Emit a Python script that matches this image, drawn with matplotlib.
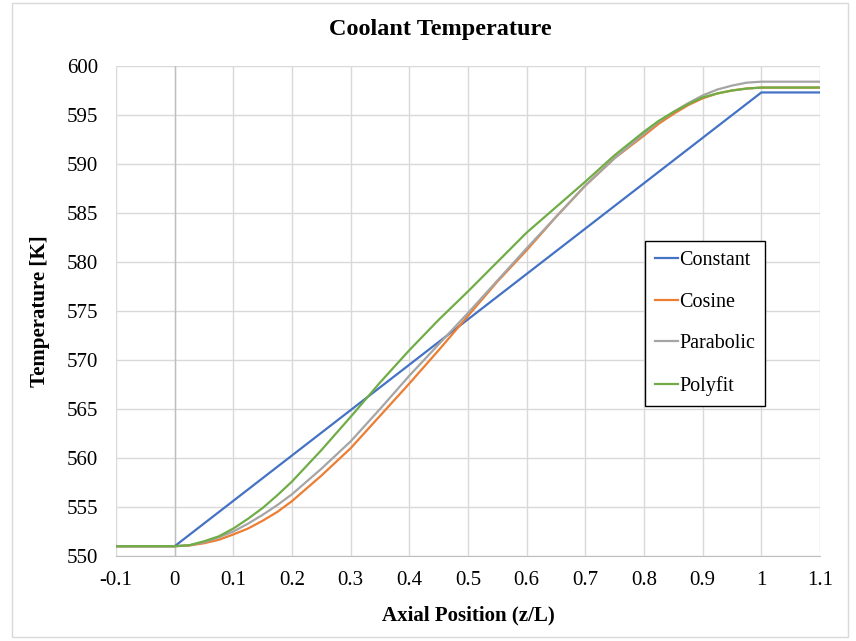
import matplotlib.pyplot as plt
from matplotlib.patches import Rectangle

plt.rcParams['font.family'] = ['Liberation Serif', 'DejaVu Serif']

# Data
z = [0.0, 0.025, 0.05, 0.075, 0.1, 0.125, 0.15, 0.175, 0.2, 0.25, 0.3, 0.35, 0.4, 0.45, 0.5,
     0.55, 0.6, 0.65, 0.7, 0.75, 0.8, 0.825, 0.85, 0.875, 0.9, 0.925, 0.95, 0.975, 1.0]

const_z = [-0.1, 0.0, 1.0, 1.1]
constant = [551.0, 551.0, 597.3, 597.3]

cosine = [551.0, 551.07, 551.3, 551.65, 552.2, 552.8, 553.6, 554.5, 555.6, 558.2, 561.0,
          564.3, 567.6, 571.0, 574.5, 578.0, 581.2, 584.6, 587.8, 590.6, 592.9,
          594.1, 595.1, 596.0, 596.7, 597.2, 597.5, 597.7, 597.8]
parabolic = [551.0, 551.1, 551.4, 551.9, 552.5, 553.3, 554.2, 555.2, 556.3, 558.9, 561.7,
             565.0, 568.4, 571.6, 574.8, 578.1, 581.4, 584.6, 587.8, 590.6, 593.1,
             594.3, 595.3, 596.2, 597.0, 597.6, 598.0, 598.3, 598.4]
polyfit = [551.0, 551.1, 551.5, 552.0, 552.8, 553.8, 554.9, 556.2, 557.6, 560.8, 564.2,
           567.7, 571.0, 574.1, 577.0, 580.0, 583.0, 585.6, 588.2, 590.9, 593.3,
           594.4, 595.3, 596.1, 596.8, 597.2, 597.5, 597.7, 597.8]

x_ticks = [round(-0.1 + 0.1 * i, 1) for i in range(13)]
x_labels = ['-0.1', '0', '0.1', '0.2', '0.3', '0.4', '0.5', '0.6', '0.7', '0.8', '0.9', '1', '1.1']
y_ticks = list(range(550, 601, 5))

fig = plt.figure(figsize=(8.56, 6.41), dpi=100)
ax = fig.add_axes([116 / 856, 1 - 556 / 641, 704 / 856, 490 / 641])

# chart border
fig.patches.append(Rectangle((12 / 856, 1 - 637 / 641), 836 / 856, 634 / 641,
                             transform=fig.transFigure, fill=False,
                             edgecolor='#D9D9D9', lw=1))

ax.plot(const_z, constant, color='#4472C4', lw=1.6, label='Constant', zorder=3)
ax.plot([-0.1] + z + [1.1], [551.0] + cosine + [cosine[-1]], color='#ED7D31', lw=1.6,
        label='Cosine', zorder=3)
ax.plot([-0.1] + z + [1.1], [551.0] + parabolic + [parabolic[-1]], color='#A5A5A5', lw=1.6,
        label='Parabolic', zorder=3)
ax.plot([-0.1] + z + [1.1], [551.0] + polyfit + [polyfit[-1]], color='#70AD47', lw=1.6,
        label='Polyfit', zorder=3)

ax.set_xlim(-0.1, 1.1)
ax.set_ylim(550, 600)
ax.set_xticks(x_ticks)
ax.set_xticklabels(x_labels)
ax.set_yticks(y_ticks)
ax.grid(True, color='#D9D9D9', lw=1)
ax.set_axisbelow(True)
ax.axvline(0, color='#BFBFBF', lw=1, zorder=2)
for s in ['top', 'right', 'left']:
    ax.spines[s].set_visible(False)
ax.spines['bottom'].set_color('#BFBFBF')
ax.tick_params(length=0, labelsize=15)
ax.tick_params(axis='x', pad=11)
ax.tick_params(axis='y', pad=13)

fig.text(468 / 856, 1 - 615 / 641, 'Axial Position (z/L)', fontsize=15, fontweight='bold',
         ha='center', va='center')
fig.text(40 / 856, 1 - 311 / 641, 'Temperature [K]', fontsize=15, fontweight='bold',
         ha='center', va='center', rotation=90)
fig.text(440 / 856, 1 - 29 / 641, 'Coolant Temperature', fontsize=17.5, fontweight='bold',
         ha='center', va='center')

leg = ax.legend(loc='upper left', bbox_to_anchor=(0.751, 0.643), fontsize=14.5,
                labelspacing=1.12, handlelength=1.15, handletextpad=0.08,
                borderpad=0.5, borderaxespad=0, fancybox=False, framealpha=1,
                edgecolor='black')
leg.get_frame().set_linewidth(1)

fig.savefig('out.png', dpi=100)
